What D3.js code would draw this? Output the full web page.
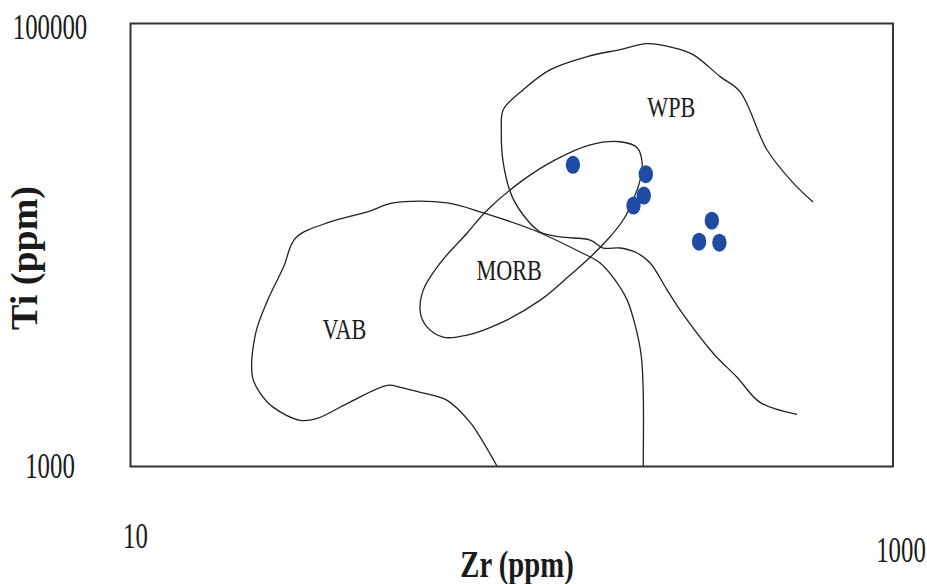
<!DOCTYPE html>
<html>
<head>
<meta charset="utf-8">
<script src="https://cdn.jsdelivr.net/npm/d3@7"></script>
<style>
  body { margin: 0; background: #fff; }
  text { font-family: "Liberation Serif", "DejaVu Serif", serif; fill: #1a1a1a; }
</style>
</head>
<body>
<svg id="chart" width="927" height="584"></svg>
<script>
// samples (Zr ppm, Ti ppm)
const zr = [144.7, 224.7, 222.0, 208.6, 334.8, 310.0, 350.5];
const ti = [23010, 20890, 16720, 15060, 12880, 10350, 10240];

// field boundaries, [Zr, Ti]
const wpbLine = [[617,15650],[547,19080],[467,26910],[397,49230],[352,57570],[299,72390],[265,77880],
    [226.6,81180],[192.5,76280],[157.7,70900],[126.2,61930],[107.2,50270],[95.0,40830],[93.9,33140],
    [95.0,23500],[100.3,16490],[109.8,12970],[118.8,11450],[134.0,10870],[160.6,10530],[173.7,9692],
    [192.5,9692],[213.3,9200],[230.7,8290],[255.6,6257],[276.5,5080],[337.5,3246],[390,2528],[448,1948],[560,1719]];

const morbLoop = [[57.6,4923],[58.6,6257],[64.9,8290],[76.4,11330],[86.3,14400],[107.2,19680],[130.0,24240],
    [160.6,28350],[192.5,29250],[213.3,27470],[219.8,23500],[217.2,19680],[208.2,15980],[196.0,12970],
    [177.9,10530],[157.7,8553],[142.3,7316],[118.8,5638],[93.3,4437],[76.4,3916],[66.1,3835],[60.0,4256]];

const vabLine = [[91.6,1000],[82.7,1353],[77.8,1582],[67.7,1989],[57.6,2161],[51.0,2278],[47.2,2325],
    [37.1,1928],[30.9,1649],[27.9,1615],[23.7,1849],[21.9,2140],[20.9,2528],[21.3,3998],[22.9,5638],
    [25.2,7952],[27.1,10760],[33.4,12710],[41.8,14100],[48.9,15490],[67.7,15490],[84.2,13960],
    [113.9,11690],[151.2,9296],[170.6,8290],[186.7,6942],[200.8,5638],[210.7,4345],[218.5,3179],
    [221.2,2208],[221.2,1000]];

const fieldNames = ["WPB", "MORB", "VAB"];
const fieldPos = [[262, 37950], [98.5, 6942], [36.4, 3756]];

const xTicks = [10, 1000];
const yTicks = [100000, 1000];

let svg = d3.select("#chart");

let x = d3.scaleLog().domain([10, 1000]).range([130.5, 893]);
let y = d3.scaleLog().domain([1000, 100000]).range([466.5, 23.5]);

// curves
let line = d3.line()
    .x(d => x(d[0]))
    .y(d => y(d[1]))
    .curve(d3.curveCatmullRom.alpha(0.5));

let loop = d3.line()
    .x(d => x(d[0]))
    .y(d => y(d[1]))
    .curve(d3.curveCatmullRomClosed.alpha(0.5));

svg.append("path").attr("d", line(wpbLine))
    .attr("fill", "none").attr("stroke", "#222").attr("stroke-width", 1.3);
svg.append("path").attr("d", line(vabLine))
    .attr("fill", "none").attr("stroke", "#222").attr("stroke-width", 1.3);
svg.append("path").attr("d", loop(morbLoop))
    .attr("fill", "none").attr("stroke", "#222").attr("stroke-width", 1.3);

// frame
svg.append("rect")
    .attr("x", x(10)).attr("y", y(100000))
    .attr("width", x(1000) - x(10))
    .attr("height", y(1000) - y(100000))
    .attr("fill", "none")
    .attr("stroke", "#333")
    .attr("stroke-width", 2);

// field labels
svg.selectAll(".field")
    .data(fieldNames)
    .enter().append("text")
    .attr("class", "field")
    .attr("transform", (d, i) => `translate(${x(fieldPos[i][0])},${y(fieldPos[i][1])}) scale(0.74,1)`)
    .attr("text-anchor", "middle")
    .style("font-size", "30px")
    .text(d => d);

// samples
svg.selectAll(".pt")
    .data(zr)
    .enter().append("ellipse")
    .attr("class", "pt")
    .attr("cx", d => x(d))
    .attr("cy", (d, i) => y(ti[i]))
    .attr("rx", 7.2)
    .attr("ry", 9)
    .attr("fill", "#1f4ba5");

// tick labels (placed like the original figure)
svg.selectAll(".ytick")
    .data(yTicks)
    .enter().append("text")
    .attr("class", "ytick")
    .attr("transform", d => `translate(50,${y(d) + (d === 100000 ? 15 : 11)}) scale(0.69,1)`)
    .attr("text-anchor", "middle")
    .style("font-size", "36px")
    .text(d => d);

svg.selectAll(".xtick")
    .data(xTicks)
    .enter().append("text")
    .attr("class", "xtick")
    .attr("transform", d => `translate(${x(d) + (d === 10 ? 5 : 8)},${d === 10 ? 548 : 562}) scale(0.69,1)`)
    .attr("text-anchor", "middle")
    .style("font-size", "36px")
    .text(d => d);

// axis titles
svg.append("text")
    .attr("transform", "translate(517,577) scale(0.755,1)")
    .attr("text-anchor", "middle")
    .style("font-size", "38px")
    .style("font-weight", "bold")
    .text("Zr (ppm)");

svg.append("text")
    .attr("transform", "translate(37,258) rotate(-90)")
    .attr("text-anchor", "middle")
    .style("font-size", "38px")
    .style("font-weight", "bold")
    .text("Ti (ppm)");
</script>
</body>
</html>
